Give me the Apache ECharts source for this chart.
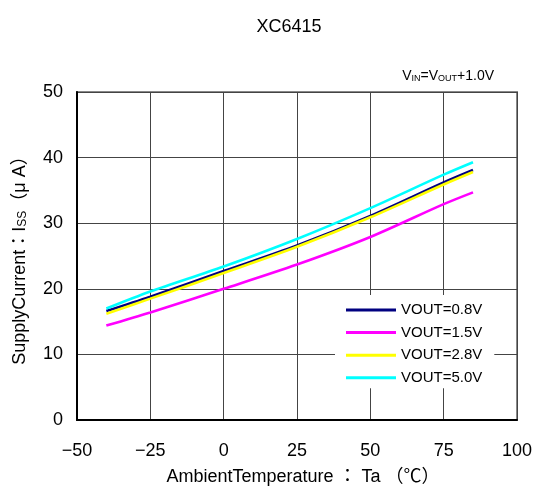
<!DOCTYPE html>
<html><head><meta charset="utf-8">
<script src="https://cdn.jsdelivr.net/npm/echarts@6/dist/echarts.min.js"></script>
<style>html,body{margin:0;padding:0;background:#fff}#c{width:536px;height:488px}</style>
</head><body><div id="c"></div>
<script>
const temps = [-40, -25, 0, 25, 50, 75, 85];
const vout08 = [16.6, 18.8, 22.7, 26.6, 31.1, 36.2, 38.1];
const vout15 = [14.4, 16.4, 20.0, 23.7, 27.9, 32.9, 34.7];
const vout28 = [16.2, 18.5, 22.4, 26.4, 30.9, 35.9, 37.8];
const vout50 = [17.0, 19.6, 23.4, 27.6, 32.3, 37.4, 39.3];
const seriesNames = ['VOUT=0.8V', 'VOUT=1.5V', 'VOUT=2.8V', 'VOUT=5.0V'];
const seriesColors = ['#000080', '#ff00ff', '#ffff00', '#00ffff'];
const xTicks = [-50, -25, 0, 25, 50, 75, 100];
const yTicks = [0, 10, 20, 30, 40, 50];

const font = '"Liberation Sans", Arial, sans-serif';
const jfont = '"Liberation Sans", "Noto Sans CJK JP", sans-serif';
const chart = echarts.init(document.getElementById('c'));
const pair = a => temps.map((t, i) => [t, a[i]]);
const dataSets = [vout08, vout15, vout28, vout50];

chart.setOption({
  animation: false,
  backgroundColor: '#fff',
  title: {
    text: 'XC6415', left: 284, top: 13, textAlign: 'center',
    textStyle: { fontFamily: font, fontSize: 18, fontWeight: 'normal', color: '#000' }
  },
  graphic: [{
    type: 'text', right: 42, top: 69,
    style: {
      text: 'V{s|IN}=V{s|OUT}+1.0V',
      fontFamily: font, fontSize: 14, fill: '#000',
      rich: { s: { fontSize: 9, verticalAlign: 'bottom', padding: [6, 0, 0, 0], fontFamily: font } }
    }
  }],
  grid: { left: 77, right: 19, top: 92, bottom: 68, show: true, borderColor: '#888', borderWidth: 2,
    containLabel: false, outerBoundsMode: 'none' },
  legend: {
    data: seriesNames,
    left: 335, top: 295,
    orient: 'vertical',
    backgroundColor: '#fff',
    padding: [7.5, 12, 3, 11],
    itemGap: 7.6,
    itemWidth: 50, itemHeight: 3,
    icon: 'rect',
    textStyle: { fontFamily: font, fontSize: 15, color: '#000' }
  },
  xAxis: {
    type: 'value', min: -50, max: 100, interval: 25,
    name: 'AmbientTemperature ： Ta （℃）', nameLocation: 'middle', nameGap: 48,
    nameTextStyle: { fontFamily: jfont, fontSize: 18, color: '#000', padding: [0, 0, 0, 12] },
    axisLine: { onZero: false, lineStyle: { color: '#000', width: 2 } },
    axisTick: { show: false },
    axisLabel: { fontFamily: font, fontSize: 18, color: '#000', margin: 22,
      formatter: v => xTicks.includes(v) ? String(v).replace('-', '−') : '' },
    splitLine: { show: true, lineStyle: { color: '#444', width: 1 } }
  },
  yAxis: {
    type: 'value', min: 0, max: 50, interval: 10,
    name: 'SupplyCurrent：I{s|SS}（μ A）', nameLocation: 'middle', nameGap: 48, nameRotate: 90,
    nameTextStyle: { fontFamily: jfont, fontSize: 18, color: '#000',
      rich: { s: { fontFamily: font, fontSize: 12, color: '#000', padding: [0, 0, -6, 0] } } },
    axisLine: { onZero: false, lineStyle: { color: '#000', width: 2 } },
    axisTick: { show: false },
    axisLabel: { fontFamily: font, fontSize: 18, color: '#000', margin: 14,
      formatter: v => yTicks.includes(v) ? String(v) : '' },
    splitLine: { show: true, lineStyle: { color: '#444', width: 1 } }
  },
  series: seriesNames.map((n, i) => ({
    name: n, type: 'line', data: pair(dataSets[i]),
    smooth: 0.3, showSymbol: false, symbol: 'none',
    lineStyle: { color: seriesColors[i], width: 2.6 },
    itemStyle: { color: seriesColors[i] },
    z: 3 + i
  }))
});
</script></body></html>
